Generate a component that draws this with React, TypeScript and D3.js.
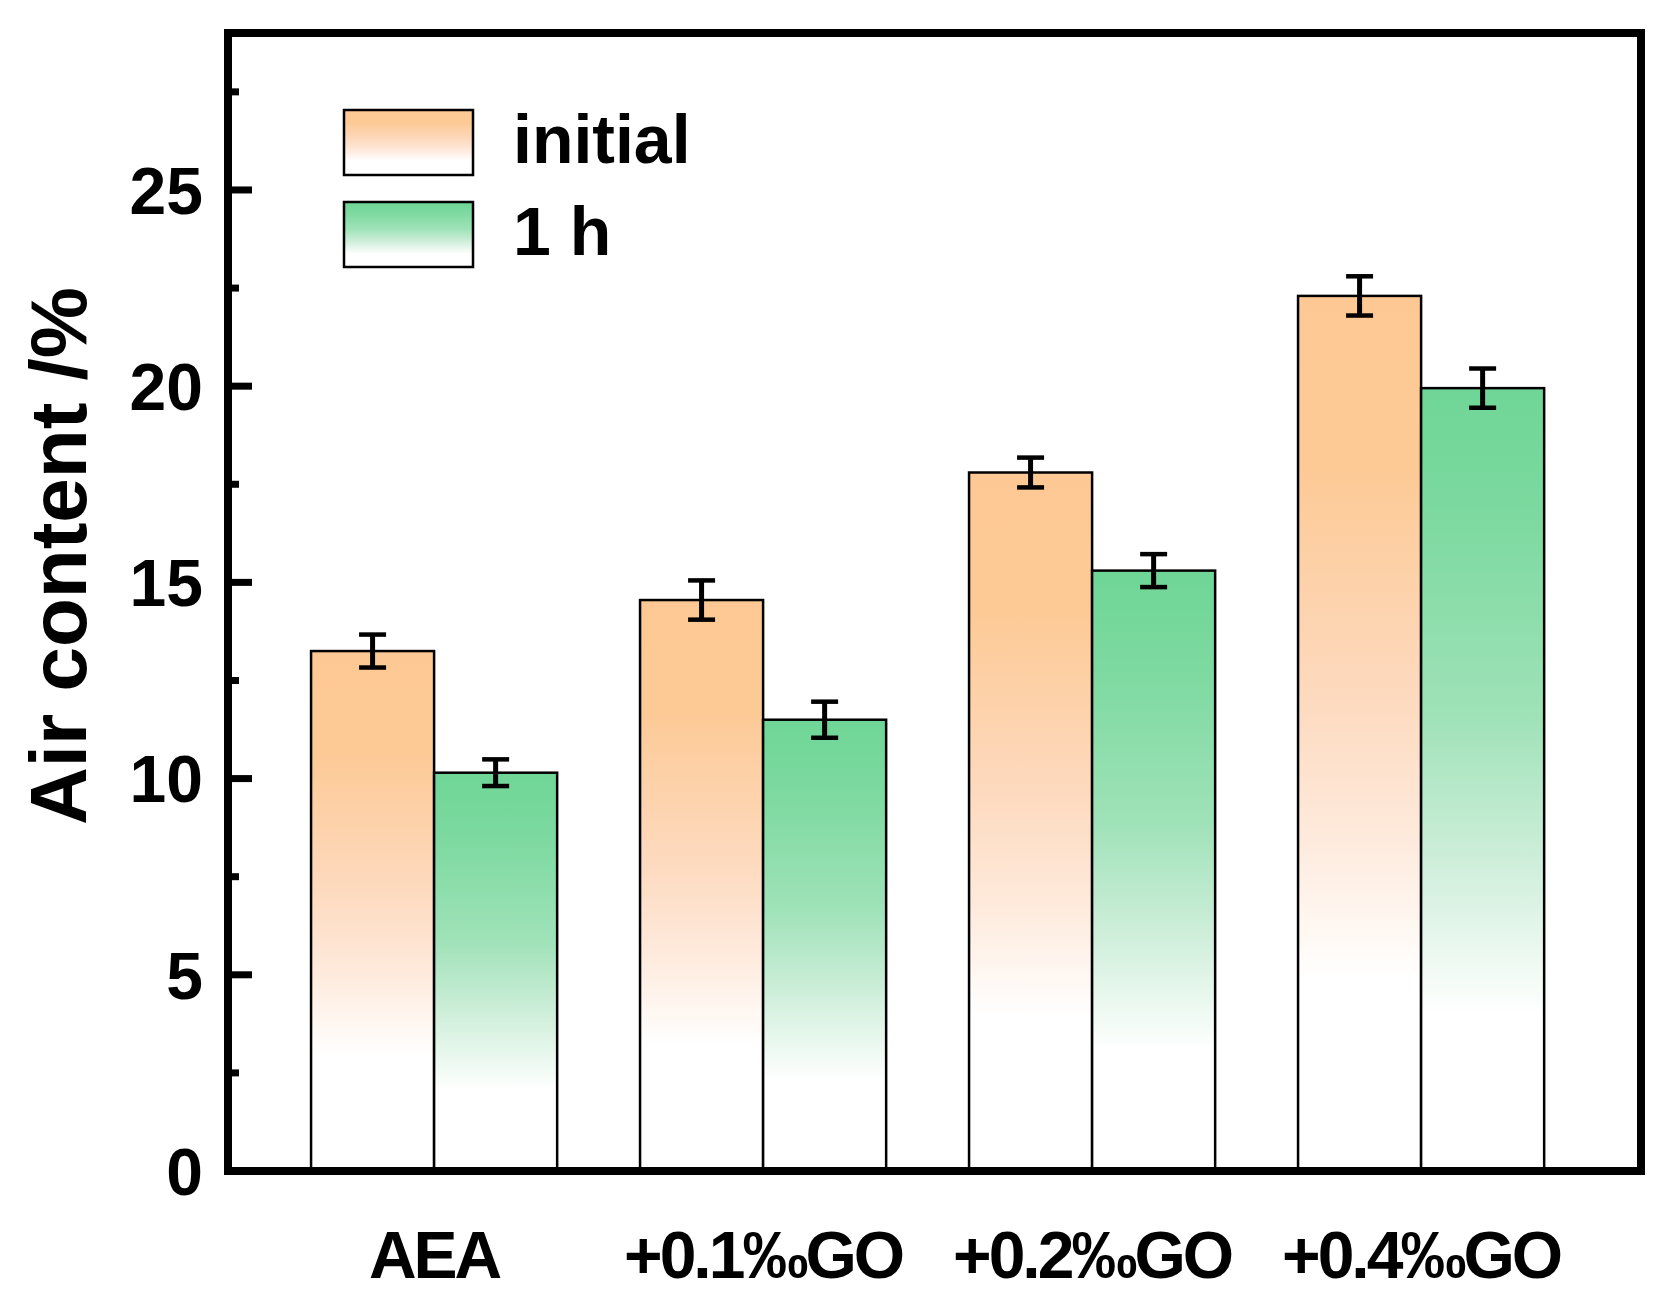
import React, { useEffect, useRef } from "react";
import * as d3 from "d3";

const categories = ["AEA", "+0.1‰GO", "+0.2‰GO", "+0.4‰GO"];
const seriesNames = ["initial", "1 h"];
const initialValues = [13.25, 14.55, 17.8, 22.3];
const initialErrors = [0.42, 0.5, 0.38, 0.5];
const hourValues = [10.15, 11.5, 15.3, 19.95];
const hourErrors = [0.34, 0.46, 0.42, 0.5];
const yTicks = [0, 5, 10, 15, 20, 25];
const yMinorTicks = [2.5, 7.5, 12.5, 17.5, 22.5, 27.5];

const FONT = "'Liberation Sans', Arial, sans-serif";

const App: React.FC = () => {
  const svgRef = useRef<SVGSVGElement | null>(null);
  const W = 1665;
  const H = 1291;
  const plot = { left: 228, right: 1641, top: 33, bottom: 1171 };

  useEffect(() => {
    document.body.style.margin = "0";
    const svgEl = svgRef.current;
    if (!svgEl) return;
    const svg = d3.select(svgEl);
    svg.selectAll("*").remove();
    svg.attr("width", W).attr("height", H).style("background", "white");

    // gradients
    const defs = svg.append("defs");
    const grads = [
      {
        id: "gradInit",
        stops: [
          [0, "#fdc893"],
          [0.2, "#fdca96"],
          [0.45, "#fdd9bd"],
          [0.62, "#feeadc"],
          [0.78, "#ffffff"],
          [1, "#ffffff"],
        ],
      },
      {
        id: "gradHour",
        stops: [
          [0, "#6fd697"],
          [0.16, "#7cd99f"],
          [0.42, "#9fe2b8"],
          [0.6, "#cdeed9"],
          [0.8, "#ffffff"],
          [1, "#ffffff"],
        ],
      },
    ];
    grads.forEach((g) => {
      const lg = defs
        .append("linearGradient")
        .attr("id", g.id)
        .attr("x1", 0)
        .attr("y1", 0)
        .attr("x2", 0)
        .attr("y2", 1);
      g.stops.forEach((s) => {
        lg.append("stop").attr("offset", s[0] as number).attr("stop-color", s[1] as string);
      });
    });
    const fills = ["url(#gradInit)", "url(#gradHour)"];

    const x0 = d3
      .scaleBand<string>()
      .domain(categories)
      .range([plot.left + 41.6, plot.left + 1357.6])
      .paddingInner(0.252)
      .paddingOuter(0.126);
    const x1 = d3.scaleBand<string>().domain(seriesNames).range([0, x0.bandwidth()]);
    const y = d3.scaleLinear().domain([0, 29]).range([plot.bottom, plot.top]);

    const rows = categories.map((c, i) => ({
      cat: c,
      items: [
        { s: seriesNames[0], v: initialValues[i], e: initialErrors[i], fill: fills[0] },
        { s: seriesNames[1], v: hourValues[i], e: hourErrors[i], fill: fills[1] },
      ],
    }));

    const groups = svg
      .selectAll(".grp")
      .data(rows)
      .enter()
      .append("g")
      .attr("class", "grp")
      .attr("transform", (d) => `translate(${x0(d.cat)},0)`);

    groups
      .selectAll("rect")
      .data((d) => d.items)
      .enter()
      .append("rect")
      .attr("x", (d) => x1(d.s)!)
      .attr("y", (d) => y(d.v))
      .attr("width", x1.bandwidth())
      .attr("height", (d) => y(0) - y(d.v))
      .attr("fill", (d) => d.fill)
      .attr("stroke", "#000")
      .attr("stroke-width", 2.5);

    // error bars
    const cap = 13.5;
    groups.each(function (d) {
      const g = d3.select(this);
      d.items.forEach((it) => {
        const cx = x1(it.s)! + x1.bandwidth() / 2;
        g.append("line")
          .attr("x1", cx)
          .attr("x2", cx)
          .attr("y1", y(it.v + it.e))
          .attr("y2", y(it.v - it.e))
          .attr("stroke", "#000")
          .attr("stroke-width", 5);
        [it.v + it.e, it.v - it.e].forEach((val) => {
          g.append("line")
            .attr("x1", cx - cap)
            .attr("x2", cx + cap)
            .attr("y1", y(val))
            .attr("y2", y(val))
            .attr("stroke", "#000")
            .attr("stroke-width", 4.5);
        });
      });
    });

    // frame
    svg
      .append("rect")
      .attr("x", plot.left)
      .attr("y", plot.top)
      .attr("width", plot.right - plot.left)
      .attr("height", plot.bottom - plot.top)
      .attr("fill", "none")
      .attr("stroke", "#000")
      .attr("stroke-width", 8);

    // y ticks (inward)
    svg
      .selectAll(".ymaj")
      .data(yTicks)
      .enter()
      .append("line")
      .attr("x1", plot.left)
      .attr("x2", plot.left + 24)
      .attr("y1", (d) => y(d))
      .attr("y2", (d) => y(d))
      .attr("stroke", "#000")
      .attr("stroke-width", 7);
    svg
      .selectAll(".ymin")
      .data(yMinorTicks)
      .enter()
      .append("line")
      .attr("x1", plot.left)
      .attr("x2", plot.left + 11)
      .attr("y1", (d) => y(d))
      .attr("y2", (d) => y(d))
      .attr("stroke", "#000")
      .attr("stroke-width", 7);

    svg
      .selectAll(".ylab")
      .data(yTicks)
      .enter()
      .append("text")
      .attr("x", plot.left - 25)
      .attr("y", (d) => y(d))
      .attr("dy", "0.36em")
      .attr("text-anchor", "end")
      .attr("font-family", FONT)
      .attr("font-weight", "bold")
      .attr("font-size", 66)
      .attr("fill", "#000")
      .text((d) => String(d));

    // x labels
    svg
      .selectAll(".xlab")
      .data(categories)
      .enter()
      .append("text")
      .attr("x", (d) => x0(d)! + x0.bandwidth() / 2)
      .attr("y", 1278)
      .attr("text-anchor", "middle")
      .attr("font-family", FONT)
      .attr("font-weight", "bold")
      .attr("font-size", 66)
      .attr("letter-spacing", -3)
      .attr("fill", "#000")
      .text((d) => d);

    // y axis title
    svg
      .append("text")
      .attr("transform", "translate(86,556) rotate(-90)")
      .attr("text-anchor", "middle")
      .attr("font-family", FONT)
      .attr("font-weight", "bold")
      .attr("font-size", 80)
      .attr("fill", "#000")
      .text("Air content /%");

    // legend
    const legend = svg.append("g");
    seriesNames.forEach((name, i) => {
      const top = 110 + i * 92;
      legend
        .append("rect")
        .attr("x", 344)
        .attr("y", top)
        .attr("width", 129)
        .attr("height", 65)
        .attr("fill", fills[i])
        .attr("stroke", "#000")
        .attr("stroke-width", 2.5);
      legend
        .append("text")
        .attr("x", 513)
        .attr("y", top + 53)
        .attr("font-family", FONT)
        .attr("font-weight", "bold")
        .attr("font-size", 68)
        .attr("fill", "#000")
        .text(name);
    });
  }, []);

  return (
    <div>
      <svg ref={svgRef}></svg>
    </div>
  );
};

export default App;
